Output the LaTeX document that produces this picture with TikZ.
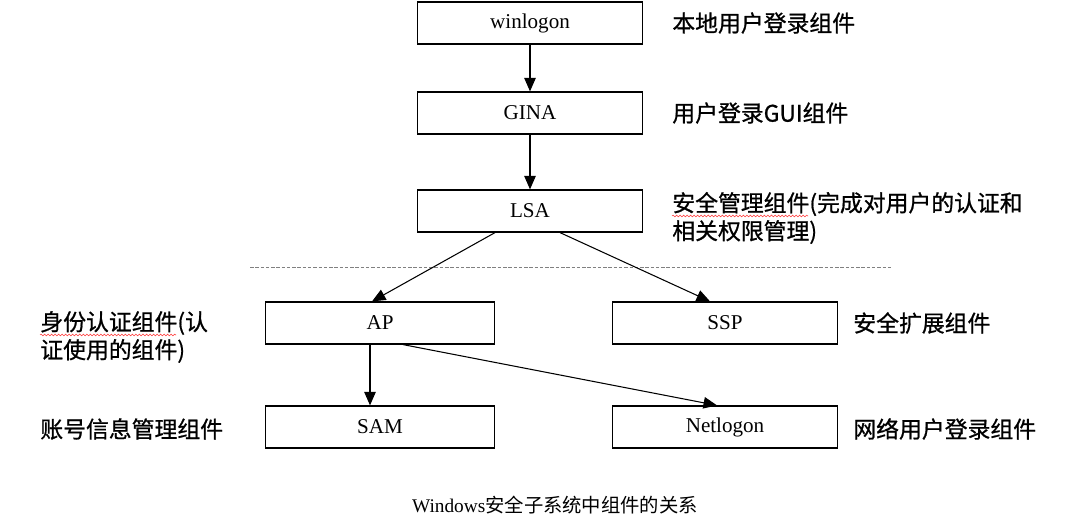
\documentclass[tikz,border=0pt]{standalone}
\usepackage{fontspec}
\setmainfont{Liberation Serif}
\newfontfamily\cjk{Noto Sans CJK SC}
\newfontfamily\cjkbold[FakeBold=0.8]{Noto Sans CJK SC}
\usetikzlibrary{positioning}
\usetikzlibrary{arrows.meta}
\usetikzlibrary{decorations.pathmorphing}
\tikzset{
        % Component boxes
        compbox/.style={draw, line width=0.7pt, minimum width=4.5cm, minimum height=0.84cm, inner sep=0pt, font=\fontsize{12}{14}\selectfont},
        % Notes next to the boxes
        note/.style={anchor=west, align=left, inner sep=0pt, font=\cjkbold\fontsize{13}{15.9}\selectfont},
        % Links between components
        link/.style={-{Triangle[length=0.27cm, width=0.23cm]}, line width=0.6pt},
        % Spell-check marks
        squiggle/.style={red!80, line width=0.3pt, decorate, decoration={snake, amplitude=0.5pt, segment length=2pt}}
}
\begin{document}
\begin{tikzpicture}[x=0.02cm, y=-0.02cm]
            \useasboundingbox (0,0) rectangle (1074,519);
            % boxes
            \node[compbox] (winlogon) at (530,23) {winlogon};
            \node[compbox] (gina) at (530,113) {GINA};
            \node[compbox] (lsa) at (530,211) {LSA};
            \node[compbox, minimum width=4.58cm] (ap) at (380,323) {AP};
            \node[compbox] (ssp) at (725,323) {SSP};
            \node[compbox, minimum width=4.58cm] (sam) at (380,427) {SAM};
            \node[compbox] (netlogon) at (725,427) {Netlogon};
            % notes
            \node[note] (n_winlogon) at (672,23) {本地用户登录组件};
            \node[note] (n_gina) at (672,113) {用户登录GUI组件};
            \node[note] (n_lsa) at (672,218) {安全管理组件(完成对用户的认证和\\相关权限管理)};
            \node[note] (n_ap) at (40,337) {身份认证组件(认\\证使用的组件)};
            \node[note] (n_ssp) at (853,323) {安全扩展组件};
            \node[note] (n_sam) at (40,429) {账号信息管理组件};
            \node[note] (n_netlogon) at (853,429) {网络用户登录组件};
            \node[font=\fontsize{11}{13}\selectfont] (caption) at (555,505) {Windows{\cjk 安全子系统中组件的关系}};
            % separator
            \coordinate (sepL) at (250,267);
            \coordinate (sepR) at (892,267);
            \draw[gray, line width=0.4pt, dash pattern=on 2pt off 1pt] (sepL) -- (sepR);
            % links
            \draw[link] (winlogon) -- (gina);
            \draw[link] (gina) -- (lsa);
            \draw[link] ([xshift=-0.7cm]lsa.south) -- ([xshift=-0.16cm]ap.north);
            \draw[link] ([xshift=0.6cm]lsa.south) -- ([xshift=-0.3cm]ssp.north);
            \draw[link] ([xshift=-0.2cm]ap.south) -- ([xshift=-0.2cm]sam.north);
            \draw[link] ([xshift=0.46cm]ap.south) -- ([xshift=-0.16cm]netlogon.north);
            % spell-check marks
            \draw[squiggle] (672,216) -- (808,216);
            \draw[squiggle] (40,335) -- (176,335);
\end{tikzpicture}
\end{document}
